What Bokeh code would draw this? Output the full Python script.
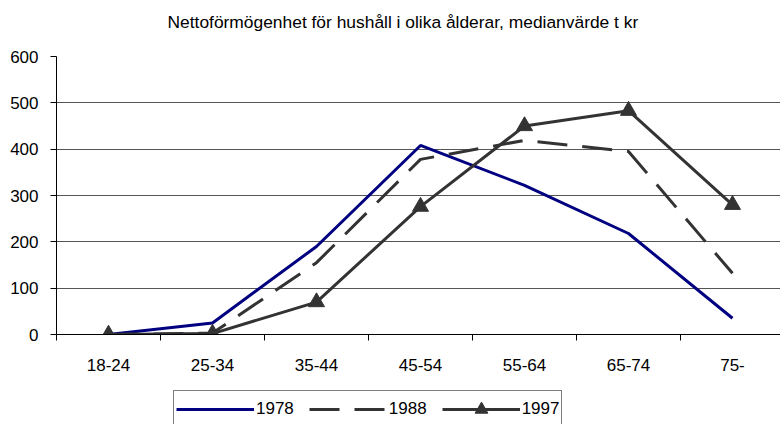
from bokeh.plotting import figure
from bokeh.layouts import column
from bokeh.models import Range1d, FixedTicker, Legend, LegendItem, Label
from bokeh.embed import file_html
from bokeh.resources import INLINE

categories = ["18-24", "25-34", "35-44", "45-54", "55-64", "65-74", "75-"]
v1978 = [0, 25, 190, 408, 322, 218, 35]
v1988 = [0, 3, 155, 378, 419, 395, 132]
v1997 = [0, 2, 70, 276, 450, 483, 280]
series_names = ["1978", "1988", "1997"]
y_ticks = [0, 100, 200, 300, 400, 500, 600]
title_text = "Nettoförmögenhet för hushåll i olika ålderar, medianvärde t kr"

FONT = "Liberation Sans"
xs = [i + 0.5 for i in range(len(categories))]


def strip(height):
    f = figure(width=780, height=height, output_backend="svg", toolbar_location=None,
               x_range=Range1d(0, 1), y_range=Range1d(1000, 1001),
               min_border_left=0, min_border_right=0, min_border_top=0, min_border_bottom=0)
    f.axis.visible = False
    f.grid.visible = False
    f.outline_line_color = None
    f.background_fill_color = "white"
    f.border_fill_color = "white"
    return f


# title strip
top = strip(46)
top.add_layout(Label(x=111, y=25, x_units="screen", y_units="screen", text=title_text,
                     text_font=FONT, text_font_size="17.4px", text_color="#000000",
                     text_baseline="alphabetic", text_align="left"))

# main chart
p = figure(width=780, height=334, output_backend="svg", toolbar_location=None,
           x_range=Range1d(0, 724 / 104), y_range=Range1d(0, 600),
           min_border_left=56, min_border_right=0, min_border_top=10, min_border_bottom=46)
p.outline_line_color = None
p.background_fill_color = "white"
p.border_fill_color = "white"

p.xaxis.ticker = FixedTicker(ticks=xs, minor_ticks=list(range(0, len(categories) + 1)))
p.xaxis.major_label_overrides = {x: c for x, c in zip(xs, categories)}
p.xaxis.major_tick_line_color = None
p.xaxis.minor_tick_line_color = "#000000"
p.xaxis.minor_tick_in = 0
p.xaxis.minor_tick_out = 6
p.xaxis.axis_line_color = "#000000"
p.xaxis.major_label_text_font = FONT
p.xaxis.major_label_text_font_size = "17px"
p.xaxis.major_label_text_color = "#000000"
p.xaxis.major_label_standoff = 18

p.yaxis.ticker = FixedTicker(ticks=y_ticks)
p.yaxis.minor_tick_line_color = None
p.yaxis.major_tick_in = 0
p.yaxis.major_tick_out = 6
p.yaxis.major_tick_line_color = "#000000"
p.yaxis.axis_line_color = "#000000"
p.yaxis.major_label_text_font = FONT
p.yaxis.major_label_text_font_size = "17px"
p.yaxis.major_label_text_color = "#000000"
p.yaxis.major_label_standoff = 12

p.xgrid.grid_line_color = None
p.ygrid.ticker = FixedTicker(ticks=y_ticks)
p.ygrid.grid_line_color = "#555555"
p.ygrid.grid_line_width = 1

styles = [dict(line_color="#000080", line_width=3),
          dict(line_color="#333333", line_width=3, line_dash="30 15"),
          dict(line_color="#333333", line_width=3)]
marker = dict(marker="triangle", size=16, fill_color="#333333", line_color="#333333")
series = [v1978, v1988, v1997]
for vals, st in zip(series, styles):
    p.line(xs, vals, **st)
p.scatter(xs, v1997, **marker)

# legend strip (its copies of the series lie outside its visible range)
lg = strip(44)
lr = [lg.line(xs, vals, **st) for vals, st in zip(series, styles)]
lm = lg.scatter(xs, v1997, **marker)

legend = Legend(items=[LegendItem(label=series_names[0], renderers=[lr[0]]),
                       LegendItem(label=series_names[1], renderers=[lr[1]]),
                       LegendItem(label=series_names[2], renderers=[lr[2], lm])],
                orientation="horizontal", location=(117, -4),
                label_text_font=FONT, label_text_font_size="17px", label_text_color="#000000",
                glyph_width=78, glyph_height=32, label_height=32, label_standoff=2, spacing=15,
                padding=2, margin=0, border_line_color="#000000", border_line_width=1,
                background_fill_color="white", background_fill_alpha=1)
lg.add_layout(legend, "center")

layout = column(top, p, lg, spacing=0)
open("out.html", "w").write(file_html(layout, INLINE))
